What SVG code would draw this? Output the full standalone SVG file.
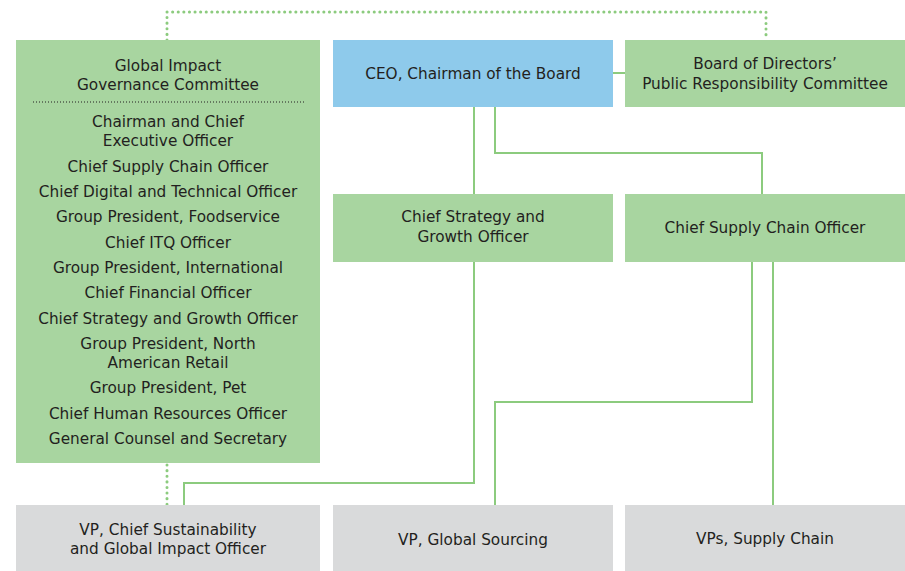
<svg xmlns="http://www.w3.org/2000/svg" width="905" height="571" viewBox="0 0 905 571">
<style>
.g{fill:#a8d5a0}
.b{fill:#8ecaeb}
.y{fill:#d9dadb}
text{font-family:"DejaVu Sans","Liberation Sans",Arial,sans-serif;font-size:15.3px;fill:#231f20;text-anchor:middle}
.ln{fill:none;stroke:#8ccb7e;stroke-width:2}
.dt{fill:none;stroke:#8ccb7e;stroke-width:3;stroke-dasharray:0.1 5.5;stroke-linecap:round}
</style>
<rect width="905" height="571" fill="#fff"/>
<g id="connectors">
<path class="dt" d="M167 40V12H766V40"/>
<path class="dt" d="M167 465V505"/>
<path class="ln" d="M613 73H625"/>
<path class="ln" d="M474 107V194"/>
<path class="ln" d="M495 107V153H762V194"/>
<path class="ln" d="M474 262V483H184V505"/>
<path class="ln" d="M752 262V402H495V505"/>
<path class="ln" d="M773 262V505"/>
</g>
<g id="global-impact">
<rect class="g" x="16" y="40" width="304" height="423"/>
<text x="168" y="71">Global Impact</text>
<text x="168" y="90">Governance Committee</text>
<line x1="33" y1="102" x2="304" y2="102" stroke="#231f20" stroke-width="1" stroke-dasharray="1 2"/>
<text x="168" y="127">Chairman and Chief</text>
<text x="168" y="146">Executive Officer</text>
<text x="168" y="172">Chief Supply Chain Officer</text>
<text x="168" y="197">Chief Digital and Technical Officer</text>
<text x="168" y="222">Group President, Foodservice</text>
<text x="168" y="248">Chief ITQ Officer</text>
<text x="168" y="273">Group President, International</text>
<text x="168" y="298">Chief Financial Officer</text>
<text x="168" y="324">Chief Strategy and Growth Officer</text>
<text x="168" y="349">Group President, North</text>
<text x="168" y="368">American Retail</text>
<text x="168" y="393">Group President, Pet</text>
<text x="168" y="419">Chief Human Resources Officer</text>
<text x="168" y="444">General Counsel and Secretary</text>
</g>
<g id="ceo">
<rect class="b" x="333" y="40" width="280" height="67"/>
<text x="473" y="79">CEO, Chairman of the Board</text>
</g>
<g id="board">
<rect class="g" x="625" y="40" width="280" height="67"/>
<text x="765" y="69">Board of Directors’</text>
<text x="765" y="89">Public Responsibility Committee</text>
</g>
<g id="strategy">
<rect class="g" x="333" y="194" width="280" height="68"/>
<text x="473" y="222">Chief Strategy and</text>
<text x="473" y="242">Growth Officer</text>
</g>
<g id="supply">
<rect class="g" x="625" y="194" width="280" height="68"/>
<text x="765" y="233">Chief Supply Chain Officer</text>
</g>
<g id="vp-sustainability">
<rect class="y" x="16" y="505" width="304" height="66"/>
<text x="168" y="535">VP, Chief Sustainability</text>
<text x="168" y="554">and Global Impact Officer</text>
</g>
<g id="vp-sourcing">
<rect class="y" x="333" y="505" width="280" height="66"/>
<text x="473" y="545">VP, Global Sourcing</text>
</g>
<g id="vps-supply">
<rect class="y" x="625" y="505" width="280" height="66"/>
<text x="765" y="544">VPs, Supply Chain</text>
</g>
</svg>
